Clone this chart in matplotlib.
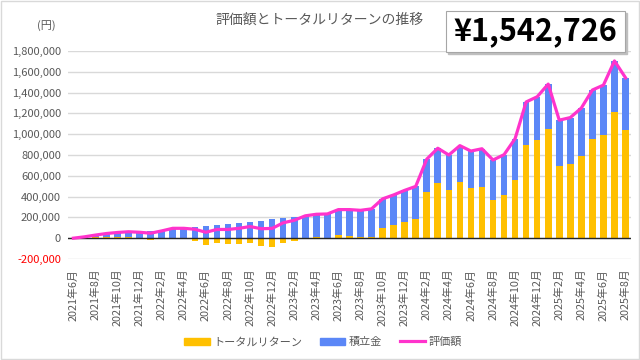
import numpy as np
import matplotlib
matplotlib.use("Agg")
import matplotlib.pyplot as plt
import matplotlib.patches as mpatches
from matplotlib.lines import Line2D

plt.rcParams['font.family'] = ['Noto Sans CJK JP', 'DejaVu Sans']

# monthly categories, 2021年6月 .. 2025年8月
months = ["2021年6月", "2021年7月", "2021年8月", "2021年9月", "2021年10月", "2021年11月", "2021年12月",
          "2022年1月", "2022年2月", "2022年3月", "2022年4月", "2022年5月", "2022年6月",
          "2022年7月", "2022年8月", "2022年9月", "2022年10月", "2022年11月", "2022年12月",
          "2023年1月", "2023年2月", "2023年3月", "2023年4月", "2023年5月", "2023年6月",
          "2023年7月", "2023年8月", "2023年9月", "2023年10月", "2023年11月", "2023年12月",
          "2024年1月", "2024年2月", "2024年3月", "2024年4月", "2024年5月", "2024年6月",
          "2024年7月", "2024年8月", "2024年9月", "2024年10月", "2024年11月", "2024年12月",
          "2025年1月", "2025年2月", "2025年3月", "2025年4月", "2025年5月", "2025年6月",
          "2025年7月", "2025年8月"]

# 積立金 (principal)
principal = [0, 10000, 20000, 30000, 40000, 50000, 60000, 70000, 80000, 90000,
             100000, 110000, 120000, 130000, 140000, 150000, 160000, 170000, 180000, 190000,
             200000, 210000, 220000, 230000, 240000, 250000, 260000, 270000, 280000, 290000,
             300000, 310000, 320000, 330000, 340000, 350000, 360000, 370000, 380000, 390000,
             400000, 410000, 420000, 430000, 440000, 450000, 460000, 470000, 480000, 490000,
             500000]

# トータルリターン
total_return = [0, 3000, 10000, 15000, 15000, 12000, -3000, -22000, -10000, 5000,
                -5000, -24000, -63000, -46000, -56000, -55000, -48000, -79000, -86000, -42000,
                -28000, 5000, 10000, 3000, 35000, 25000, 8000, 12000, 98000, 126000,
                160000, 188000, 440000, 535000, 460000, 540000, 478000, 490000, 372000, 413000,
                557000, 900000, 940000, 1052000, 695000, 710000, 792000, 955000, 992000, 1215000,
                1042726]

principal = np.array(principal)
total_return = np.array(total_return)
valuation = principal + total_return  # 評価額

c_ret = "#FFC000"
c_pri = "#5B87F7"
c_val = "#FF33CC"
c_txt = "#595959"

fig = plt.figure(figsize=(6.4, 3.6), dpi=100)
ax = fig.add_axes([0.106, 0.2806, 0.880, 0.5777])

x = np.arange(len(months))
ax.bar(x, total_return, width=0.6, color=c_ret, zorder=2)
ax.bar(x, principal, width=0.6, bottom=np.maximum(total_return, 0), color=c_pri, zorder=2)
ax.plot(x, valuation, color=c_val, lw=2.3, zorder=3)

ax.set_xlim(-0.5, len(months) - 0.5)
ax.set_ylim(-200000, 1800000)
yt = np.arange(-200000, 1800001, 200000)
ax.set_yticks(yt)
ax.set_yticklabels([f"{v:,}" for v in yt], fontsize=8, color=c_txt)
ax.get_yticklabels()[0].set_color("#FF0000")
ax.grid(axis="y", color="#D9D9D9", lw=1, zorder=0)
ax.axhline(0, color="#262626", lw=1, zorder=2.5)
for s in ax.spines.values():
    s.set_visible(False)
ax.tick_params(length=0, pad=5)

ax.set_xticks(x[::2])
ax.set_xticklabels(months[::2], rotation=90, fontsize=7.8, color=c_txt)
ax.tick_params(axis="x", pad=7)

fig.text(0.5, 0.944, "評価額とトータルリターンの推移", ha="center", va="center",
         fontsize=10, color=c_txt)
fig.text(0.072, 0.93, "(円)", ha="center", va="center", fontsize=8, color=c_txt)

# value box with shadow
shadow = mpatches.Rectangle((448 / 640, 1 - 54 / 360), 179 / 640, 41 / 360,
                            transform=fig.transFigure, color="#BFBFBF", zorder=5)
box = mpatches.Rectangle((446 / 640, 1 - 52 / 360), 179 / 640, 41 / 360,
                         transform=fig.transFigure, facecolor="white",
                         edgecolor="#A6A6A6", lw=0.8, zorder=6)
fig.patches.extend([shadow, box])
fig.text(535.5 / 640, 1 - 31.5 / 360, "¥1,542,726", ha="center", va="center",
         fontsize=22, fontweight="bold", color="black", zorder=7)

handles = [mpatches.Patch(color=c_ret, label="トータルリターン"),
           mpatches.Patch(color=c_pri, label="積立金"),
           Line2D([0], [0], color=c_val, lw=2.3, label="評価額")]
leg = fig.legend(handles=handles, loc="center", bbox_to_anchor=(0.505, 0.05), ncol=3,
                 frameon=False, fontsize=8, handlelength=2.3, handleheight=0.6,
                 columnspacing=1.6, handletextpad=0.3)
for t in leg.get_texts():
    t.set_color(c_txt)

# chart frame
fig.patches.append(mpatches.Rectangle((0.001, 0.003), 0.997, 0.994, transform=fig.transFigure,
                                      fill=False, edgecolor="#D9D9D9", lw=1))

fig.savefig("out.png", dpi=100)
